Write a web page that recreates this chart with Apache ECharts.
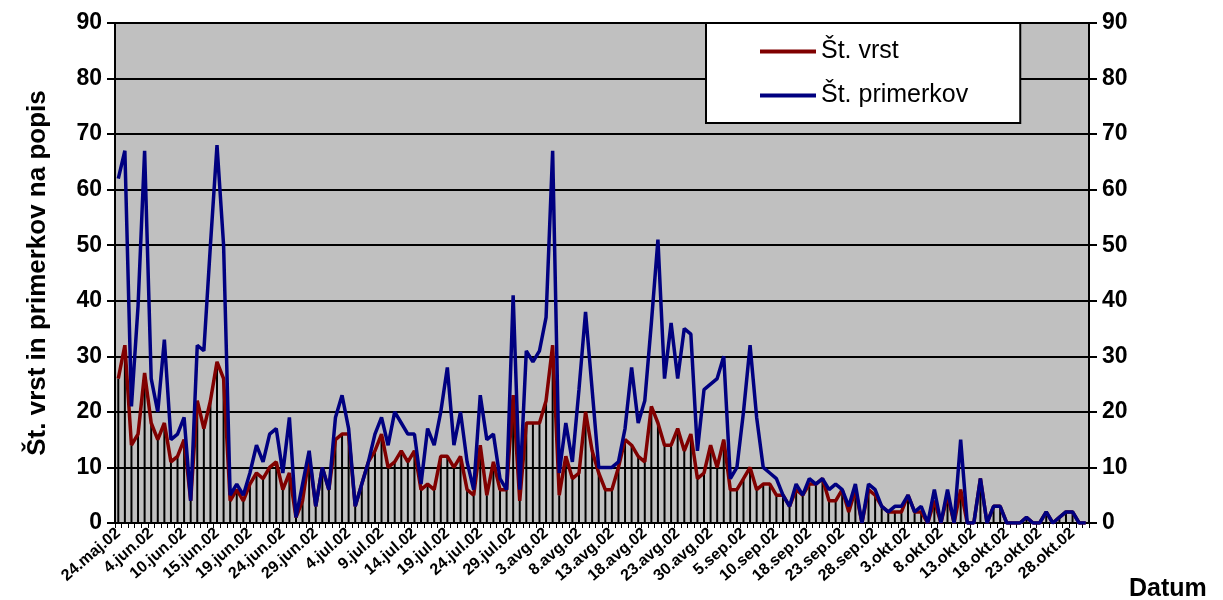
<!DOCTYPE html>
<html>
<head>
<meta charset="utf-8">
<title>Št. vrst in primerkov</title>
<script src="https://cdn.jsdelivr.net/npm/echarts@6/dist/echarts.min.js"></script>
<style>
  html, body { margin: 0; padding: 0; background: #fff; }
  #chart { width: 1223px; height: 600px; }
</style>
</head>
<body>
<div id="chart"></div>
<script>
// sampling dates (category axis, not evenly spaced in time)
const dates = [
  '24.maj.02', '26.maj.02', '28.maj.02', '30.maj.02', '1.jun.02',
  '4.jun.02', '5.jun.02', '6.jun.02', '7.jun.02', '9.jun.02',
  '10.jun.02', '11.jun.02', '12.jun.02', '13.jun.02', '14.jun.02',
  '15.jun.02', '16.jun.02', '17.jun.02', '18.jun.02', '18.jun.02',
  '19.jun.02', '20.jun.02', '21.jun.02', '22.jun.02', '23.jun.02',
  '24.jun.02', '25.jun.02', '26.jun.02', '27.jun.02', '28.jun.02',
  '29.jun.02', '30.jun.02', '1.jul.02', '2.jul.02', '3.jul.02',
  '4.jul.02', '5.jul.02', '6.jul.02', '7.jul.02', '8.jul.02',
  '9.jul.02', '10.jul.02', '11.jul.02', '12.jul.02', '13.jul.02',
  '14.jul.02', '15.jul.02', '16.jul.02', '17.jul.02', '18.jul.02',
  '19.jul.02', '20.jul.02', '21.jul.02', '22.jul.02', '23.jul.02',
  '24.jul.02', '25.jul.02', '26.jul.02', '27.jul.02', '28.jul.02',
  '29.jul.02', '30.jul.02', '31.jul.02', '1.avg.02', '2.avg.02',
  '3.avg.02', '4.avg.02', '5.avg.02', '6.avg.02', '7.avg.02',
  '8.avg.02', '9.avg.02', '10.avg.02', '11.avg.02', '12.avg.02',
  '13.avg.02', '14.avg.02', '15.avg.02', '16.avg.02', '17.avg.02',
  '18.avg.02', '19.avg.02', '20.avg.02', '21.avg.02', '22.avg.02',
  '23.avg.02', '24.avg.02', '26.avg.02', '27.avg.02', '28.avg.02',
  '30.avg.02', '31.avg.02', '1.sep.02', '2.sep.02', '3.sep.02',
  '5.sep.02', '6.sep.02', '7.sep.02', '8.sep.02', '9.sep.02',
  '10.sep.02', '11.sep.02', '13.sep.02', '15.sep.02', '17.sep.02',
  '18.sep.02', '19.sep.02', '20.sep.02', '21.sep.02', '22.sep.02',
  '23.sep.02', '24.sep.02', '25.sep.02', '26.sep.02', '27.sep.02',
  '28.sep.02', '29.sep.02', '30.sep.02', '1.okt.02', '2.okt.02',
  '3.okt.02', '4.okt.02', '5.okt.02', '6.okt.02', '7.okt.02',
  '8.okt.02', '9.okt.02', '10.okt.02', '11.okt.02', '12.okt.02',
  '13.okt.02', '14.okt.02', '15.okt.02', '16.okt.02', '17.okt.02',
  '18.okt.02', '19.okt.02', '20.okt.02', '21.okt.02', '22.okt.02',
  '23.okt.02', '24.okt.02', '25.okt.02', '26.okt.02', '27.okt.02',
  '28.okt.02', '29.okt.02', '30.okt.02'
]

// Št. vrst
const vrst = [
  26, 32, 14, 16, 27, 18, 15, 18, 11, 12,
  15, 4, 22, 17, 22, 29, 26, 4, 6, 4,
  7, 9, 8, 10, 11, 6, 9, 1, 4, 12,
  3, 10, 6, 15, 16, 16, 3, 7, 11, 13,
  16, 10, 11, 13, 11, 13, 6, 7, 6, 12,
  12, 10, 12, 6, 5, 14, 5, 11, 6, 6,
  23, 4, 18, 18, 18, 22, 32, 5, 12, 8,
  9, 20, 13, 9, 6, 6, 10, 15, 14, 12,
  11, 21, 18, 14, 14, 17, 13, 16, 8, 9,
  14, 10, 15, 6, 6, 8, 10, 6, 7, 7,
  5, 5, 3, 6, 5, 7, 7, 8, 4, 4,
  6, 2, 6, 0, 6, 5, 3, 2, 2, 2,
  5, 2, 2, 0, 4, 0, 5, 0, 6, 0,
  0, 8, 0, 3, 3, 0, 0, 0, 1, 0,
  0, 2, 0, 1, 2, 2, 0, 0
]

// Št. primerkov
const primerkov = [
  62, 67, 21, 39, 67, 26, 20, 33, 15, 16,
  19, 4, 32, 31, 50, 68, 50, 5, 7, 5,
  9, 14, 11, 16, 17, 9, 19, 1, 7, 13,
  3, 10, 6, 19, 23, 17, 3, 7, 11, 16,
  19, 14, 20, 18, 16, 16, 7, 17, 14, 20,
  28, 14, 20, 11, 6, 23, 15, 16, 8, 6,
  41, 6, 31, 29, 31, 37, 67, 9, 18, 11,
  24, 38, 24, 10, 10, 10, 11, 17, 28, 18,
  22, 36, 51, 26, 36, 26, 35, 34, 13, 24,
  25, 26, 30, 8, 10, 20, 32, 19, 10, 9,
  8, 5, 3, 7, 5, 8, 7, 8, 6, 7,
  6, 3, 7, 0, 7, 6, 3, 2, 3, 3,
  5, 2, 3, 0, 6, 0, 6, 0, 15, 0,
  0, 8, 0, 3, 3, 0, 0, 0, 1, 0,
  0, 2, 0, 1, 2, 2, 0, 0
]

const yTicks = [0, 10, 20, 30, 40, 50, 60, 70, 80, 90]

const font = "'Liberation Sans', Arial, sans-serif"

const chart = echarts.init(document.getElementById('chart'))

const yAxisBase = {
  type: 'value',
  min: yTicks[0],
  max: yTicks[yTicks.length - 1],
  interval: 10,
  axisLine: { show: true, lineStyle: { color: '#000', width: 2 } },
  axisTick: { show: true, length: 8, lineStyle: { color: '#000', width: 2 } },
  axisLabel: {
    color: '#000',
    fontFamily: font,
    fontWeight: 'bold',
    fontSize: 23,
    margin: 13
  }
}

chart.setOption({
  animation: false,
  backgroundColor: '#fff',
  textStyle: { fontFamily: font },
  grid: {
    left: 115,
    right: 134,
    top: 23,
    bottom: 77,
    show: true,
    backgroundColor: '#c0c0c0',
    borderColor: '#808080',
    borderWidth: 1
  },
  legend: {
    data: ['Št. vrst', 'Št. primerkov'],
    orient: 'vertical',
    left: 706,
    top: 23,
    backgroundColor: '#fff',
    borderColor: '#000',
    borderWidth: 2,
    padding: [16, 52, 15, 54],
    icon: 'rect',
    itemWidth: 56,
    itemHeight: 4,
    itemGap: 19,
    textStyle: { fontSize: 25, color: '#000', fontFamily: font }
  },
  xAxis: {
    type: 'category',
    data: dates,
    boundaryGap: true,
    axisLine: { lineStyle: { color: '#000', width: 2 } },
    axisTick: { show: true, interval: 0, length: 5, lineStyle: { color: '#000' } },
    axisLabel: {
      interval: 4,
      rotate: 41,
      color: '#000',
      fontFamily: font,
      fontWeight: 'bold',
      fontSize: 16,
      margin: 8
    },
    splitLine: { show: false }
  },
  yAxis: [
    Object.assign({}, yAxisBase, {
      position: 'left',
      name: 'Št. vrst in primerkov na popis',
      nameLocation: 'middle',
      nameRotate: 90,
      nameGap: 64,
      nameTextStyle: { fontSize: 26, fontWeight: 'bold', color: '#000', fontFamily: font },
      splitLine: { show: true, lineStyle: { color: '#000', width: 2 } }
    }),
    Object.assign({}, yAxisBase, {
      position: 'right',
      splitLine: { show: false }
    })
  ],
  graphic: [
    {
      type: 'text',
      left: 1129,
      top: 577,
      style: { text: 'Datum', fill: '#000', font: 'bold 25px ' + font }
    }
  ],
  series: [
    {
      name: 'stolpci',
      type: 'bar',
      data: vrst,
      barWidth: 2,
      itemStyle: { color: '#000' },
      z: 1
    },
    {
      name: 'Št. vrst',
      type: 'line',
      data: vrst,
      symbol: 'none',
      lineStyle: { color: '#800000', width: 3.5 },
      itemStyle: { color: '#800000' },
      z: 3
    },
    {
      name: 'Št. primerkov',
      type: 'line',
      data: primerkov,
      symbol: 'none',
      lineStyle: { color: '#000080', width: 3.5 },
      itemStyle: { color: '#000080' },
      z: 4
    }
  ]
})
</script>
</body>
</html>
